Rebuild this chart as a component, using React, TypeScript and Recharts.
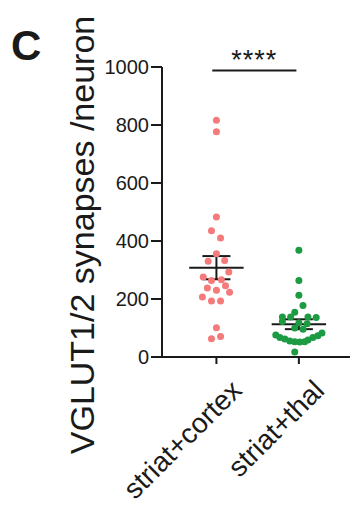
import React from 'react';
import { ScatterChart, Scatter, XAxis, YAxis, ReferenceLine, Label } from 'recharts';

// groups shown on the x axis
const groups = ['striat+cortex', 'striat+thal'];

// synapse counts per neuron
const cortexValues = [816, 777, 483, 435, 410, 356, 333, 330, 293, 276, 264, 266, 246, 238, 230, 223, 207, 193, 193, 101, 63, 71];
const cortexJitter = [0, 0, 0, -0.06, 0.05, 0, 0.1, -0.1, 0.15, -0.16, -0.06, 0.06, 0.11, -0.11, 0, 0.16, -0.17, -0.06, 0.05, 0, -0.06, 0.05];

const thalValues = [368, 264, 213, 178, 154, 138, 138, 138, 136, 122, 118, 115, 100, 96, 83, 76, 73, 67, 67, 62, 59, 55, 53, 52, 53, 17];
const thalJitter = [0, 0, 0, 0.05, -0.05, -0.2, -0.1, 0.11, 0.21, -0.2, 0, 0.1, -0.05, 0.05, 0.28, -0.28, 0.23, -0.23, 0.17, -0.17, 0.11, -0.11, -0.05, 0.01, 0.07, -0.05];

// mean +/- SEM per group
const means = [308, 113];
const sems = [40, 17];

const yTicks = [0, 200, 400, 600, 800, 1000];
const significance = '****';

const FONT = '"Liberation Sans", Arial, Helvetica, sans-serif';
const RED = '#F57A7C';
const GREEN = '#1C9B43';
const INK = '#1a1a1a';

const toPoints = (values: number[], jitter: number[], pos: number) =>
  values.map((v, i) => ({ x: pos + jitter[i], y: v }));

const cortexData = toPoints(cortexValues, cortexJitter, 1);
const thalData = toPoints(thalValues, thalJitter, 2);

const dot = (color: string) => (props: any) => (
  <circle cx={props.cx} cy={props.cy} r={3.5} fill={color} />
);

const XTick = (props: any) => {
  const { x, y, payload } = props;
  const ax = x + 27;
  const ay = y + 26;
  return (
    <text
      x={ax}
      y={ay}
      textAnchor="end"
      transform={`rotate(-45, ${ax}, ${ay})`}
      fontSize={28}
      fontFamily={FONT}
      fill={INK}
    >
      {groups[payload.value - 1]}
    </text>
  );
};

const App = () => {
  const halfMean = 0.33;
  const halfCap = 0.17;
  return (
    <div style={{ position: 'absolute', left: 0, top: 0, width: 350, height: 513, background: '#fff' }}>
      <div
        style={{
          position: 'absolute',
          left: 11,
          top: 21,
          fontFamily: FONT,
          fontWeight: 'bold',
          fontSize: 42,
          lineHeight: '50px',
          color: INK,
        }}
      >
        C
      </div>
      <ScatterChart width={350} height={513} margin={{ top: 67, right: 0, bottom: 0, left: 0 }}>
        <XAxis
          type="number"
          dataKey="x"
          domain={[0.34, 2.62]}
          ticks={[1, 2]}
          height={156}
          tickSize={7}
          tick={<XTick />}
          axisLine={{ stroke: INK, strokeWidth: 2 }}
          tickLine={{ stroke: INK, strokeWidth: 2 }}
          allowDataOverflow
        />
        <YAxis
          type="number"
          dataKey="y"
          domain={[0, 1000]}
          ticks={yTicks}
          width={162}
          tickSize={11}
          tickMargin={2}
          tick={{ fontSize: 20, fontFamily: FONT, fill: INK }}
          axisLine={{ stroke: INK, strokeWidth: 2 }}
          tickLine={{ stroke: INK, strokeWidth: 2 }}
        >
          <Label
            content={() => (
              <text
                x={94}
                y={235}
                textAnchor="middle"
                transform="rotate(-90, 94, 235)"
                fontSize={34}
                fontFamily={FONT}
                fill={INK}
              >
                VGLUT1/2 synapses /neuron
              </text>
            )}
          />
        </YAxis>
        <Scatter data={cortexData} shape={dot(RED)} isAnimationActive={false} />
        <Scatter data={thalData} shape={dot(GREEN)} isAnimationActive={false} />
        {means.map((m, i) => {
          const c = i + 1;
          const lo = m - sems[i];
          const hi = m + sems[i];
          return (
            <React.Fragment key={groups[i]}>
              <ReferenceLine segment={[{ x: c - halfMean, y: m }, { x: c + halfMean, y: m }]} stroke={INK} strokeWidth={2} />
              <ReferenceLine segment={[{ x: c - halfCap, y: hi }, { x: c + halfCap, y: hi }]} stroke={INK} strokeWidth={2} />
              <ReferenceLine segment={[{ x: c - halfCap, y: lo }, { x: c + halfCap, y: lo }]} stroke={INK} strokeWidth={2} />
              <ReferenceLine segment={[{ x: c, y: lo }, { x: c, y: hi }]} stroke={INK} strokeWidth={2} />
            </React.Fragment>
          );
        })}
        <ReferenceLine
          segment={[{ x: 0.95, y: 988 }, { x: 1.97, y: 988 }]}
          stroke={INK}
          strokeWidth={2}
          ifOverflow="visible"
          label={{ value: significance, position: 'top', offset: 1, fontSize: 27, fontFamily: FONT, fill: INK, letterSpacing: 1 }}
        />
      </ScatterChart>
    </div>
  );
};

export default App;
